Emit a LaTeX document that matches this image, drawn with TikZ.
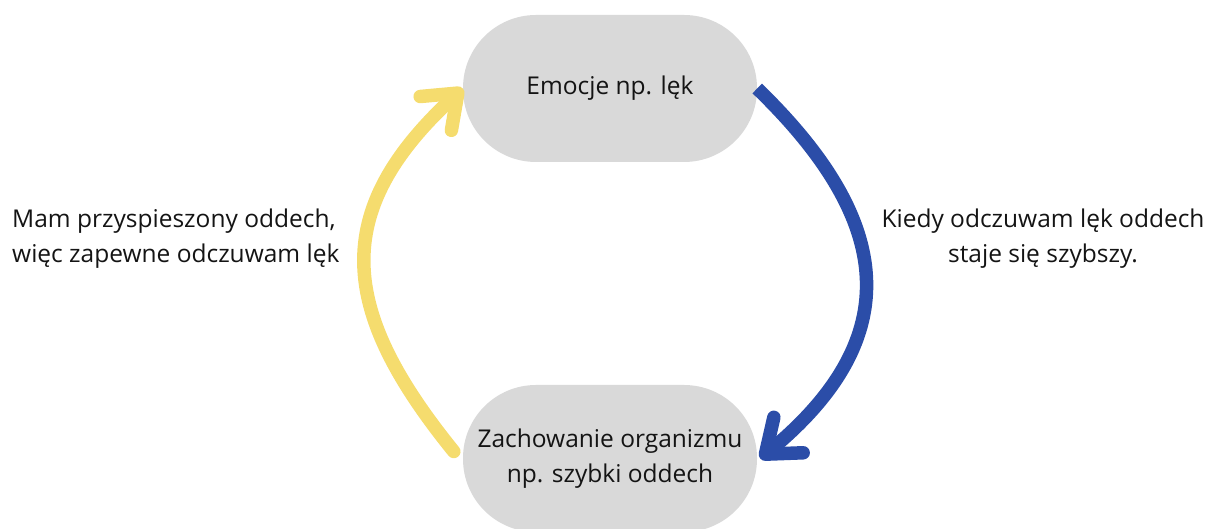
\documentclass[tikz,border=0pt]{standalone}
\usepackage{fontspec}
\setmainfont{Open Sans}
\usetikzlibrary{arrows.meta}
\definecolor{pill}{HTML}{D9D9D9}
\definecolor{yel}{HTML}{F5DC6E}
\definecolor{blu}{HTML}{2B4DA8}
\definecolor{ink}{HTML}{141414}
\begin{document}
\begin{tikzpicture}[x=1pt,y=1pt,
  pillbox/.style={fill=pill, rounded corners=73pt, minimum width=294pt, minimum height=147pt, inner sep=0pt, align=center, font=\fontsize{24.5}{34.5}\selectfont, text=ink},
  lbl/.style={inner sep=0pt, font=\fontsize{24.5}{35}\selectfont, text=ink},
  yarrow/.style={draw=yel, line width=13.5pt, line cap=round, -{Straight Barb[length=30pt,width=46pt,round]}},
  barrow/.style={draw=blu, line width=13.5pt, -{Straight Barb[length=30pt,width=46pt,round]}}
]
\useasboundingbox (0,0) rectangle (1208,529);
\clip (0,0) rectangle (1208,529);
\node[pillbox] (emo) at (610,440.5) {Emocje np. lęk};
\node[pillbox] (org) at (610,70.5) {Zachowanie organizmu\\np. szybki oddech};
\coordinate (ys) at ([shift={(-9pt,7pt)}]org.west);
\coordinate (be) at ([xshift=3pt]org.east);
\draw[yarrow] (ys) .. controls (339,219) and (329,317) .. (emo.west);
\draw[barrow] (emo.east) .. controls (894,308) and (907,192) .. (be);
\node[lbl, align=left, anchor=base west] (l1) at (12,266) {Mam przyspieszony oddech,\\więc zapewne odczuwam lęk};
\node[lbl, align=center, anchor=base] (r1) at (1043,266) {Kiedy odczuwam lęk oddech\\staje się szybszy.};
\end{tikzpicture}
\end{document}
